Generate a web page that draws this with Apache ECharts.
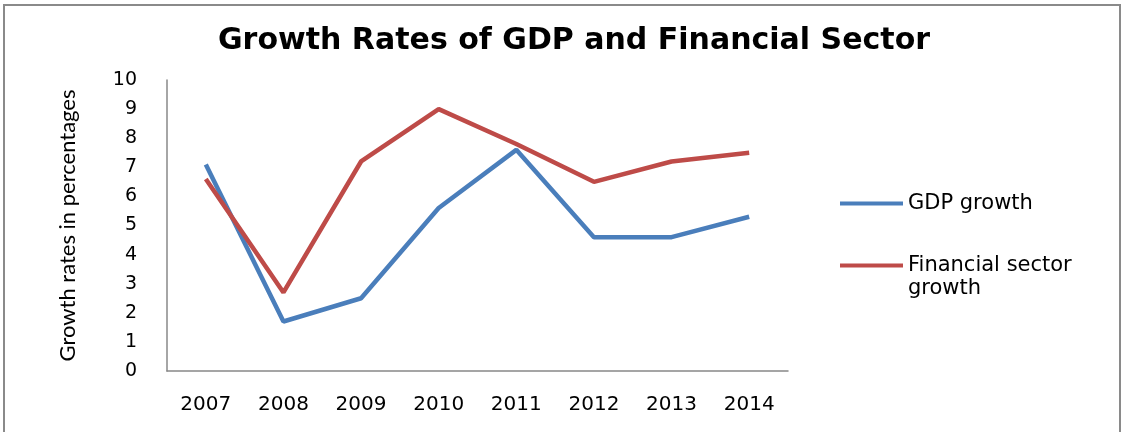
<!DOCTYPE html>
<html>
<head>
<meta charset="utf-8">
<script src="https://cdn.jsdelivr.net/npm/echarts@6/dist/echarts.min.js"></script>
<style>
    html, body { margin: 0; padding: 0; background: #fff; }
    #chart { width: 1125px; height: 432px; }
</style>
</head>
<body>
<div id="chart"></div>
<script>
var years = ["2007", "2008", "2009", "2010", "2011", "2012", "2013", "2014"];
var gdpGrowth = [7.1, 1.7, 2.5, 5.6, 7.6, 4.6, 4.6, 5.3];
var financialGrowth = [6.6, 2.7, 7.2, 9.0, 7.8, 6.5, 7.2, 7.5];
var yTicks = [0, 1, 2, 3, 4, 5, 6, 7, 8, 9, 10];

var myChart = echarts.init(document.getElementById("chart"));
var option = {
    animation: false,
    backgroundColor: "#fff",
    title: {
        text: "Growth Rates of GDP and Financial Sector",
        left: 569,
        top: 21,
        textAlign: "center",
        textStyle: {
            fontFamily: "DejaVu Sans",
            fontWeight: "bold",
            fontSize: 30,
            color: "#000"
        }
    },
    graphic: [{
        type: "rect",
        shape: { x: 4, y: 5, width: 1116, height: 440 },
        style: { fill: "none", stroke: "#8a8a8a", lineWidth: 2 },
        silent: true
    }, {
        // second line of the legend label
        type: "text",
        left: 908,
        top: 278,
        style: {
            text: "growth",
            fontFamily: "DejaVu Sans",
            fontSize: 21,
            fill: "#000"
        },
        silent: true
    }],
    legend: {
        orient: "vertical",
        left: 835,
        top: 188,
        itemWidth: 63,
        itemHeight: 4,
        itemGap: 41,
        itemStyle: { borderWidth: 0 },
        icon: "rect",
        textStyle: {
            fontFamily: "DejaVu Sans",
            fontSize: 21,
            color: "#000"
        },
        formatter: function (name) {
            return name === "Financial sector growth" ? "Financial sector" : name;
        },
        data: ["GDP growth", "Financial sector growth"]
    },
    grid: {
        left: 167,
        right: 1125 - 788,
        top: 80,
        bottom: 432 - 371
    },
    xAxis: {
        type: "category",
        data: years,
        boundaryGap: true,
        axisLine: { lineStyle: { color: "#888", width: 1.5 } },
        axisTick: { show: false },
        axisLabel: {
            margin: 24,
            fontFamily: "DejaVu Sans",
            fontSize: 20,
            color: "#000"
        }
    },
    yAxis: {
        type: "value",
        min: yTicks[0],
        max: yTicks[yTicks.length - 1],
        interval: 1,
        name: "Growth rates in percentages",
        nameLocation: "middle",
        nameGap: 88,
        nameRotate: 90,
        nameTextStyle: {
            fontFamily: "Lato",
            fontSize: 22,
            color: "#000"
        },
        splitLine: { show: false },
        axisLine: { show: true, lineStyle: { color: "#888", width: 1.5 } },
        axisTick: { show: false },
        axisLabel: {
            margin: 30,
            fontFamily: "DejaVu Sans",
            fontSize: 19,
            color: "#000"
        }
    },
    series: [{
        name: "GDP growth",
        type: "line",
        data: gdpGrowth,
        showSymbol: false,
        itemStyle: { color: "#4A7EBB" },
        lineStyle: { color: "#4A7EBB", width: 4.5 }
    }, {
        name: "Financial sector growth",
        type: "line",
        data: financialGrowth,
        showSymbol: false,
        itemStyle: { color: "#BE4B48" },
        lineStyle: { color: "#BE4B48", width: 4.5 }
    }]
};
myChart.setOption(option);
</script>
</body>
</html>
